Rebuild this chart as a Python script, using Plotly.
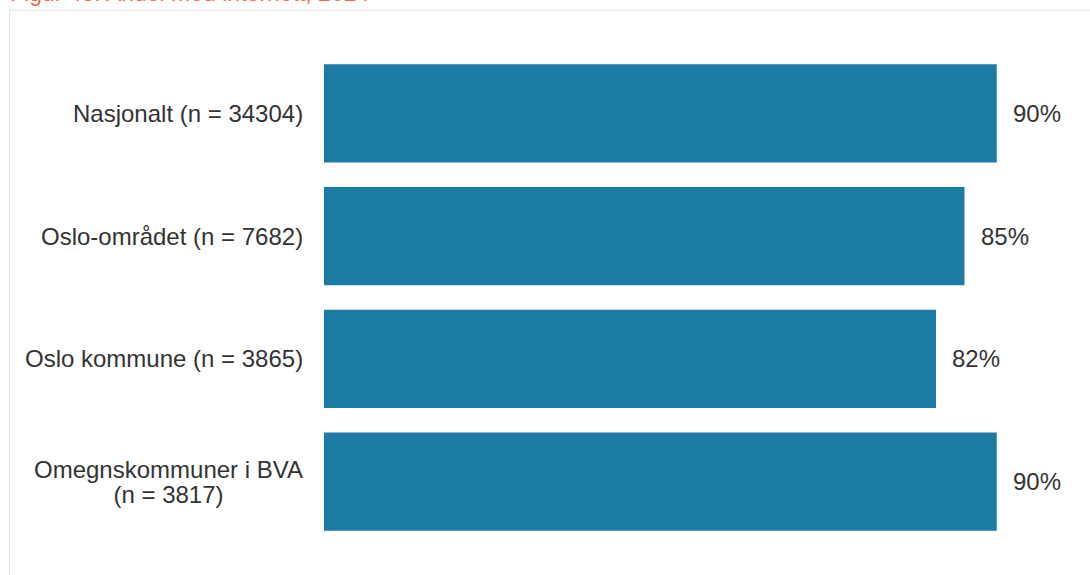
import plotly.graph_objects as go

# Andel per område (prosent), med antall svar i etiketten
categories = [
    "Nasjonalt (n = 34304)",
    "Oslo-området (n = 7682)",
    "Oslo kommune (n = 3865)",
    "Omegnskommuner i BVA<br>(n = 3817)",
]
shares = [89.7, 85.4, 81.6, 89.7]

title_text = "Figur 43: Andel med internett, 2024"

BAR_COLOR = "#1c7ca3"
TEXT_COLOR = "#333333"
FONT = "Liberation Sans, Arial, Helvetica, sans-serif"
LABEL_SIZE = 24
BASE_SIZE = 19.2  # styrer linjeavstanden (1.3 em) i flerlinjede etiketter

fig = go.Figure(
    go.Bar(
        x=shares,
        y=categories,
        orientation="h",
        marker=dict(color=BAR_COLOR, line=dict(width=0)),
        hoverinfo="skip",
    )
)


def sized(text, size):
    # Hver linje får egen skriftstørrelse, slik at linjeavstanden blir tettere
    return "<br>".join(
        f'<span style="font-size:{size}px">{line}</span>' for line in text.split("<br>")
    )


annotations = []
# Kategorietiketter til venstre, midtstilt over flere linjer
for cat in categories:
    annotations.append(
        dict(
            x=0, xref="x", y=cat, yref="y",
            text=sized(cat, LABEL_SIZE), showarrow=False,
            xanchor="right", yanchor="middle", align="center",
            xshift=-19,
            font=dict(family=FONT, size=BASE_SIZE, color=TEXT_COLOR),
        )
    )
# Verdietiketter til høyre for søylene
for cat, v in zip(categories, shares):
    annotations.append(
        dict(
            x=v, xref="x", y=cat, yref="y",
            text=f"{v:.0f}%", showarrow=False,
            xanchor="left", yanchor="middle",
            xshift=14,
            font=dict(family=FONT, size=LABEL_SIZE, color=TEXT_COLOR),
        )
    )
# Figurtittel øverst
annotations.append(
    dict(
        x=-0.4213, xref="paper", y=1.0823, yref="paper",
        text=title_text, showarrow=False,
        xanchor="left", yanchor="bottom", yshift=4,
        font=dict(family=FONT, size=23, color="#f26a45"),
    )
)

fig.update_layout(
    width=1090,
    height=575,
    margin=dict(l=324, r=16, t=51.5, b=31.5, pad=0),
    paper_bgcolor="white",
    plot_bgcolor="white",
    showlegend=False,
    bargap=0.2,
    xaxis=dict(range=[0, 100], visible=False, fixedrange=True),
    yaxis=dict(
        autorange="reversed", showticklabels=False, showgrid=False,
        zeroline=False, showline=False, ticks="", fixedrange=True,
    ),
    annotations=annotations,
    shapes=[
        dict(
            type="rect", xref="paper", yref="paper",
            x0=-0.4193, x1=1.05, y0=-0.12, y1=1.0854,
            line=dict(color="#e4e4e4", width=1),
            fillcolor="rgba(0,0,0,0)", layer="below",
        )
    ],
)

fig.write_html("out.html", config={"displayModeBar": False})
